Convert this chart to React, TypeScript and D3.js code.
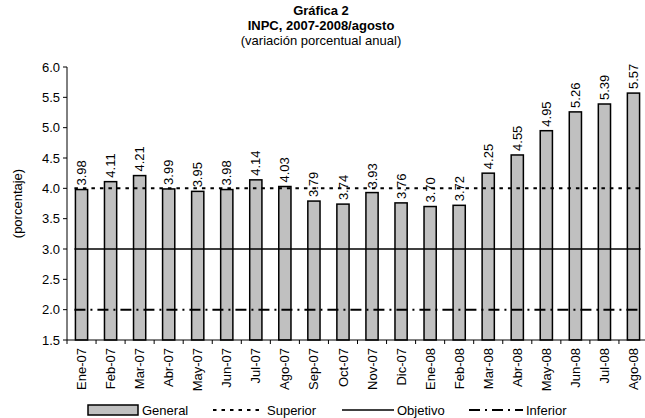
import React from "react";
import * as d3 from "d3";

const months = [
  "Ene-07", "Feb-07", "Mar-07", "Abr-07", "May-07", "Jun-07", "Jul-07", "Ago-07",
  "Sep-07", "Oct-07", "Nov-07", "Dic-07", "Ene-08", "Feb-08", "Mar-08", "Abr-08",
  "May-08", "Jun-08", "Jul-08", "Ago-08",
];
const general = [
  3.98, 4.11, 4.21, 3.99, 3.95, 3.98, 4.14, 4.03, 3.79, 3.74, 3.93, 3.76, 3.7,
  3.72, 4.25, 4.55, 4.95, 5.26, 5.39, 5.57,
];
const yTicks = [1.5, 2.0, 2.5, 3.0, 3.5, 4.0, 4.5, 5.0, 5.5, 6.0];
const refLines = [
  { name: "Superior", value: 4.0, dash: "3.5,5", width: 2 },
  { name: "Objetivo", value: 3.0, dash: "", width: 1.5 },
  { name: "Inferior", value: 2.0, dash: "11,5,2,5", width: 2 },
];

const W = 645;
const H = 418;
const font = "'Liberation Sans', Arial, sans-serif";

const App = () => {
  const x = d3
    .scaleBand<string>()
    .domain(months)
    .range([67, 648])
    .paddingInner(0.58)
    .paddingOuter(0.29);
  const y = d3.scaleLinear().domain([1.5, 6.0]).range([340, 67]);
  const step = x.step();
  const x0 = 67;
  const lineX1 = (x(months[0]) as number) - 1;
  const lineX2 = (x(months[months.length - 1]) as number) + x.bandwidth() + 1;

  return (
    <svg
      width={W}
      height={H}
      style={{ position: "absolute", left: 0, top: 0 }}
      fontFamily={font}
      fontSize={13}
    >
      <rect width={W} height={H} fill="#fff" />
      {/* title */}
      <g textAnchor="middle">
        <text x={321} y={15} fontWeight="bold">Gráfica 2</text>
        <text x={321} y={30} fontWeight="bold">INPC, 2007-2008/agosto</text>
        <text x={321} y={45}>(variación porcentual anual)</text>
      </g>

      {/* y axis */}
      <line x1={x0} x2={x0} y1={y(6)} y2={y(1.5)} stroke="#000" />
      {yTicks.map((t) => (
        <g key={t}>
          <line x1={x0 - 4} x2={x0} y1={y(t)} y2={y(t)} stroke="#000" />
          <text x={x0 - 7} y={y(t)} dy="0.35em" textAnchor="end">
            {t.toFixed(1)}
          </text>
        </g>
      ))}
      <text
        transform={`translate(17,${y(3.75)}) rotate(-90)`}
        textAnchor="middle"
        dy="0.35em"
      >
        (porcentaje)
      </text>

      {/* bars */}
      {months.map((m, i) => (
        <rect
          key={m}
          x={x(m)}
          y={y(general[i])}
          width={x.bandwidth()}
          height={y(1.5) - y(general[i])}
          fill="#c0c0c0"
          stroke="#000"
          strokeWidth={1.5}
        />
      ))}

      {/* reference lines */}
      {refLines.map((r) => (
        <line
          key={r.name}
          x1={lineX1}
          x2={lineX2}
          y1={y(r.value)}
          y2={y(r.value)}
          stroke="#000"
          strokeWidth={r.width}
          strokeDasharray={r.dash || undefined}
        />
      ))}

      {/* value labels */}
      {months.map((m, i) => (
        <text
          key={m}
          transform={`translate(${(x(m) as number) + x.bandwidth() / 2},${y(general[i]) - 4}) rotate(-90)`}
          dy="0.35em"
        >
          {general[i].toFixed(2)}
        </text>
      ))}

      {/* x axis */}
      <line x1={x0} x2={648} y1={y(1.5)} y2={y(1.5)} stroke="#000" />
      {d3.range(months.length + 1).map((i) => (
        <line
          key={i}
          x1={x0 + i * step}
          x2={x0 + i * step}
          y1={y(1.5)}
          y2={y(1.5) + 4}
          stroke="#000"
        />
      ))}
      {months.map((m) => (
        <text
          key={m}
          transform={`translate(${(x(m) as number) + x.bandwidth() / 2},348) rotate(-90)`}
          textAnchor="end"
          dy="0.35em"
        >
          {m}
        </text>
      ))}

      {/* legend */}
      <g>
        <rect x={88} y={405} width={50} height={10} fill="#c0c0c0" stroke="#000" strokeWidth={1.5} />
        <text x={142} y={410} dy="0.35em">General</text>
        {refLines.map((r, i) => {
          const lx = [213, 342, 469][i];
          const lw = [51, 52, 54][i];
          return (
            <g key={r.name}>
              <line
                x1={lx}
                x2={lx + lw}
                y1={410}
                y2={410}
                stroke="#000"
                strokeWidth={r.width}
                strokeDasharray={r.dash || undefined}
              />
              <text x={lx + lw + 3} y={410} dy="0.35em">{r.name}</text>
            </g>
          );
        })}
      </g>
    </svg>
  );
};

export default App;
